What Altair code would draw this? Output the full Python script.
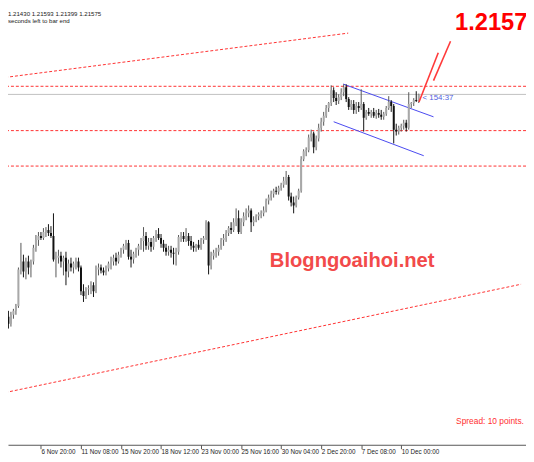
import altair as alt
import pandas as pd

# ---- candle data (prices in 1/10000 units), H4 bars, index 2..167 ----
open_pts = [11722, 11706, 11692, 11710, 11718, 11728, 11802, 11818, 11798, 11818,
            11806, 11818, 11846, 11862, 11870, 11866, 11878, 11882, 11876, 11870,
            11822, 11826, 11830, 11818, 11826, 11798, 11814, 11806, 11814, 11818,
            11806, 11758, 11748, 11762, 11764, 11770, 11758, 11802, 11806, 11800,
            11796, 11804, 11814, 11818, 11826, 11818, 11832, 11842, 11850, 11856,
            11828, 11822, 11834, 11842, 11850, 11860, 11870, 11850, 11858, 11848,
            11866, 11874, 11866, 11854, 11846, 11838, 11842, 11836, 11834, 11838,
            11868, 11870, 11864, 11870, 11860, 11850, 11846, 11852, 11846, 11862,
            11866, 11898, 11810, 11830, 11836, 11838, 11846, 11862, 11866, 11876,
            11886, 11882, 11898, 11906, 11878, 11898, 11910, 11916, 11922, 11898,
            11902, 11910, 11914, 11916, 11922, 11942, 11948, 11956, 11962, 11960,
            11968, 11974, 11982, 11990, 11950, 11938, 11932, 11948, 11962, 12026,
            12042, 12044, 12070, 12078, 12050, 12068, 12090, 12102, 12114, 12130,
            12140, 12166, 12150, 12144, 12152, 12162, 12172, 12148, 12132, 12138,
            12126, 12134, 12130, 12138, 12110, 12122, 12118, 12122, 12114, 12120,
            12116, 12112, 12118, 12130, 12142, 12134, 12086, 12082, 12090, 12094,
            12100, 12090, 12138, 12140, 12146, 12143]
high_pts = [11736, 11718, 11716, 11722, 11732, 11806, 11856, 11832, 11826, 11830,
            11822, 11852, 11872, 11878, 11878, 11886, 11888, 11894, 11890, 11916,
            11838, 11842, 11838, 11830, 11838, 11822, 11826, 11818, 11826, 11826,
            11810, 11772, 11766, 11770, 11778, 11776, 11810, 11814, 11812, 11806,
            11810, 11818, 11828, 11832, 11836, 11838, 11846, 11854, 11862, 11862,
            11842, 11838, 11846, 11854, 11866, 11888, 11878, 11866, 11866, 11870,
            11882, 11886, 11874, 11862, 11854, 11850, 11850, 11846, 11846, 11872,
            11878, 11878, 11886, 11876, 11870, 11858, 11854, 11862, 11866, 11870,
            11902, 11900, 11838, 11842, 11846, 11852, 11866, 11874, 11882, 11890,
            11898, 11906, 11926, 11922, 11906, 11918, 11926, 11932, 11926, 11910,
            11914, 11918, 11922, 11930, 11946, 11954, 11962, 11966, 11970, 11972,
            11978, 11990, 12002, 11994, 11958, 11950, 11952, 11966, 12032, 12046,
            12050, 12076, 12086, 12082, 12074, 12098, 12110, 12122, 12136, 12142,
            12176, 12172, 12162, 12158, 12170, 12178, 12178, 12152, 12146, 12146,
            12142, 12142, 12168, 12142, 12126, 12130, 12126, 12130, 12126, 12128,
            12126, 12122, 12134, 12154, 12146, 12138, 12098, 12094, 12098, 12106,
            12106, 12162, 12142, 12150, 12164, 12159]
low_pts = [11698, 11682, 11686, 11702, 11710, 11724, 11792, 11786, 11782, 11792,
           11786, 11812, 11838, 11850, 11862, 11862, 11868, 11870, 11866, 11818,
           11786, 11814, 11806, 11790, 11770, 11786, 11798, 11794, 11802, 11798,
           11750, 11736, 11742, 11750, 11752, 11746, 11754, 11790, 11794, 11790,
           11790, 11798, 11802, 11810, 11810, 11814, 11826, 11834, 11842, 11822,
           11806, 11814, 11826, 11830, 11842, 11838, 11842, 11842, 11838, 11842,
           11858, 11862, 11846, 11838, 11830, 11830, 11826, 11812, 11810, 11832,
           11858, 11858, 11858, 11850, 11842, 11838, 11838, 11842, 11842, 11854,
           11862, 11792, 11802, 11822, 11826, 11830, 11842, 11850, 11858, 11870,
           11874, 11878, 11890, 11874, 11874, 11890, 11902, 11908, 11878, 11890,
           11898, 11902, 11906, 11910, 11918, 11934, 11942, 11948, 11954, 11954,
           11962, 11968, 11974, 11942, 11930, 11916, 11928, 11944, 11958, 12022,
           12032, 12040, 12062, 12038, 12044, 12062, 12082, 12094, 12110, 12122,
           12134, 12142, 12136, 12138, 12146, 12154, 12142, 12126, 12126, 12118,
           12118, 12122, 12126, 12082, 12106, 12114, 12110, 12110, 12108, 12110,
           12106, 12106, 12114, 12126, 12122, 12058, 12074, 12076, 12082, 12086,
           12082, 12086, 12130, 12134, 12142, 12140]
close_pts = [11706, 11692, 11710, 11718, 11728, 11802, 11818, 11798, 11818, 11806,
             11818, 11846, 11862, 11870, 11866, 11878, 11882, 11876, 11870, 11822,
             11826, 11830, 11818, 11826, 11798, 11814, 11806, 11814, 11818, 11806,
             11758, 11748, 11762, 11764, 11770, 11758, 11802, 11806, 11800, 11796,
             11804, 11814, 11818, 11826, 11818, 11832, 11842, 11850, 11856, 11828,
             11822, 11834, 11842, 11850, 11860, 11870, 11850, 11858, 11848, 11866,
             11874, 11866, 11854, 11846, 11838, 11842, 11836, 11834, 11838, 11868,
             11870, 11864, 11870, 11860, 11850, 11846, 11852, 11846, 11862, 11866,
             11898, 11810, 11830, 11836, 11838, 11846, 11862, 11866, 11876, 11886,
             11882, 11898, 11906, 11878, 11898, 11910, 11916, 11922, 11898, 11902,
             11910, 11914, 11916, 11922, 11942, 11948, 11956, 11962, 11960, 11968,
             11974, 11982, 11990, 11950, 11938, 11932, 11948, 11962, 12026, 12042,
             12044, 12070, 12078, 12050, 12068, 12090, 12102, 12114, 12130, 12140,
             12166, 12150, 12144, 12152, 12162, 12172, 12148, 12132, 12138, 12126,
             12134, 12130, 12138, 12110, 12122, 12118, 12122, 12114, 12120, 12116,
             12112, 12118, 12130, 12142, 12134, 12086, 12082, 12090, 12094, 12100,
             12090, 12138, 12140, 12146, 12144, 12157.5]
first_bar = 2  # bar index of the first candle in the lists

# x-axis tick positions (bar index) and labels
tick_index = [16, 32, 48, 64, 80, 96, 112, 128, 144, 160]
tick_labels = ["6 Nov 20:00", "11 Nov 08:00", "15 Nov 20:00", "18 Nov 12:00",
               "23 Nov 00:00", "25 Nov 16:00", "30 Nov 04:00", "2 Dec 20:00",
               "7 Dec 08:00", "10 Dec 00:00"]

# horizontal price levels
level_dashed = [1.2174, 1.2084, 1.2012]
bid_price = 1.21575

# drawn lines (bar index, price)
red_trend = {"x": [1.71, 1.71], "y": [1.2192, 1.1552],
             "x2": [138.8, 207.9], "y2": [1.2282, 1.1772]}
blue_channel = {"x": [136.8, 133.0], "y": [1.21786, 1.2102],
                "x2": [172.9, 169.0], "y2": [1.2112, 1.2033]}
red_arrows = {"x": [167.1, 172.9], "y": [1.2142, 1.21854],
              "x2": [174.8, 179.7], "y2": [1.2242, 1.22654]}

n = len(close_pts)
df = pd.DataFrame({
    "i": list(range(first_bar, first_bar + n)),
    "open": [v / 10000 for v in open_pts],
    "high": [v / 10000 for v in high_pts],
    "low": [v / 10000 for v in low_pts],
    "close": [v / 10000 for v in close_pts],
})

W, H = 526, 440
FONT = "Liberation Sans"

xscale = alt.Scale(domain=[4.8, 207.9], nice=False, zero=False)
yscale = alt.Scale(domain=[1.1446, 1.2326], nice=False, zero=False)

label_arr = "[" + ",".join("'" + s + "'" for s in tick_labels) + "]"
xaxis = alt.Axis(values=tick_index, labelExpr=label_arr + "[round(datum.value/16)-1]",
                 title=None, grid=False, domainColor="#555555", tickColor="#555555",
                 tickSize=4, labelAlign="left", labelBaseline="top", labelPadding=0,
                 labelFontSize=6.4, labelColor="#222222", labelFont=FONT,
                 labelOverlap=False, labelFlush=False, labelBound=False, domainWidth=1)

X = alt.X("i:Q", scale=xscale, axis=xaxis)
up = alt.datum.close >= alt.datum.open

levels = alt.Chart(pd.DataFrame({"p": level_dashed})).mark_rule(
    color="#ff3030", strokeWidth=1, strokeDash=[3, 2]).encode(
    y=alt.Y("p:Q", scale=yscale, axis=None))
bidline = alt.Chart(pd.DataFrame({"p": [bid_price]})).mark_rule(
    color="#c0c0c0", strokeWidth=1).encode(y=alt.Y("p:Q", scale=yscale, axis=None))


def seg(d, color, dash=None, width=1.0):
    kw = dict(color=color, strokeWidth=width, clip=True)
    if dash:
        kw["strokeDash"] = dash
    return alt.Chart(pd.DataFrame(d)).mark_rule(**kw).encode(
        x=alt.X("x:Q", scale=xscale, axis=xaxis), x2="x2:Q",
        y=alt.Y("y:Q", scale=yscale, axis=None), y2="y2:Q")


trend = seg(red_trend, "#ff3030", dash=[3, 2])
channel = seg(blue_channel, "#4848f0", width=1)
arrows = seg(red_arrows, "#ff3a3a", width=1.6)

wicks = alt.Chart(df).mark_rule(strokeWidth=1, clip=True).encode(
    x=X, y=alt.Y("low:Q", scale=yscale, axis=None), y2="high:Q",
    color=alt.condition(up, alt.value("#555555"), alt.value("#111111")))
bodies = alt.Chart(df).mark_bar(size=2, clip=True, orient="vertical").encode(
    x=X, y=alt.Y("open:Q", scale=yscale, axis=None), y2="close:Q",
    color=alt.condition(up, alt.value("#a8a8a8"), alt.value("#111111")))


def txt(s, x, y, size, color, weight="normal", align="left", baseline="middle"):
    return alt.Chart(pd.DataFrame({"t": [s]})).mark_text(
        align=align, baseline=baseline, fontSize=size, font=FONT,
        fontWeight=weight, color=color).encode(
        x=alt.value(x), y=alt.value(y), text="t:N")


texts = [
    txt("1.2157", 454, 19, 24, "#ff0000", weight="bold", baseline="alphabetic"),
    txt("Blogngoaihoi.net", 349.5, 254, 20.5, "#f24a4a", weight="bold", align="center"),
    txt("Spread: 10 points.", 455, 416, 8.5, "#ff3030"),
    txt("< 154:37", 421, 88, 8, "#5060e0"),
    txt("1.21430 1.21593 1.21399 1.21575", 0, 0, 6.2, "#222222", baseline="top"),
    txt("seconds left to bar end", 0, 6.5, 6.2, "#222222", baseline="top"),
]

chart = alt.layer(levels, bidline, trend, channel, wicks, bodies, arrows, *texts).properties(
    width=W, height=H,
    autosize=alt.AutoSizeParams(type="none"),
    padding={"left": 0, "top": 0, "right": 0, "bottom": 14},
    background="white",
).configure_view(stroke=None)

chart.save("out.html", embed_options={"renderer": "svg", "actions": False})
